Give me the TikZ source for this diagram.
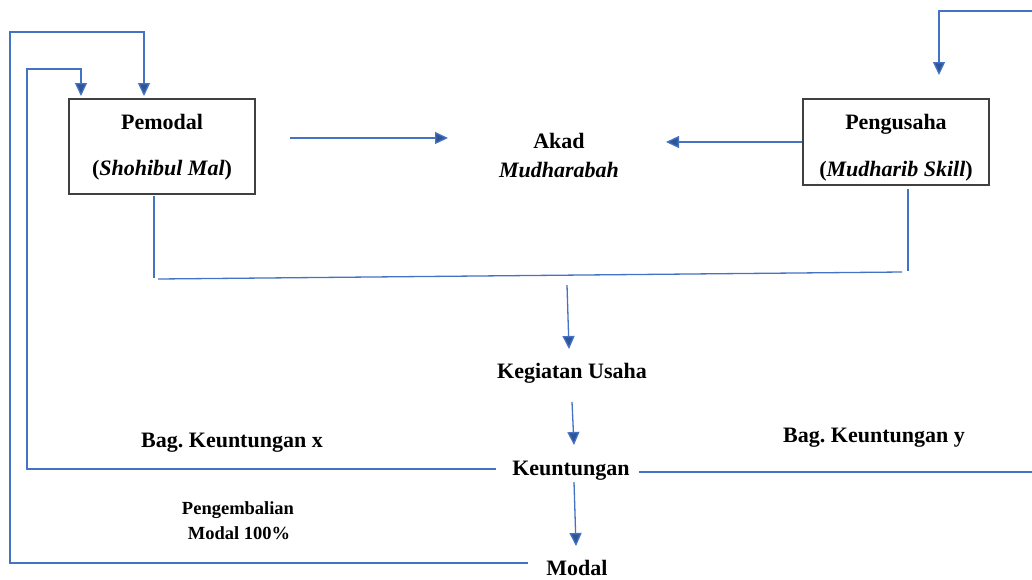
\documentclass[tikz,border=0pt]{standalone}
\usepackage{fontspec}
\setmainfont{Liberation Serif}
\usetikzlibrary{arrows.meta}
\definecolor{flow}{HTML}{4472C4}
\definecolor{flowdark}{HTML}{2F5597}
\definecolor{boxline}{HTML}{404040}
\frenchspacing
\begin{document}
\begin{tikzpicture}[x=1pt,y=-1pt,
  link/.style={draw=flow, line width=1.3pt},
  arr/.style={link, -{Triangle[length=13pt,width=12pt,fill=flowdark]}},
  party/.style={draw=boxline, line width=1.5pt, fill=white, inner sep=0pt},
  lbl/.style={font=\fontsize{22}{26}\selectfont\bfseries, anchor=base, inner sep=0pt},
  small/.style={font=\fontsize{18.5}{22}\selectfont\bfseries, anchor=base, inner sep=0pt}]
\useasboundingbox (0,0) rectangle (1032,579);

% the two parties
\node[party, minimum width=186pt, minimum height=95pt] (pemodal) at (162,146.5) {};
\node[lbl] (pemodalT) at (162,129) {Pemodal};
\node[lbl] (pemodalS) at (162,175) {(\textit{Shohibul Mal})};

\node[party, minimum width=186pt, minimum height=86pt] (pengusaha) at (896,142) {};
\node[lbl] (pengusahaT) at (896,129) {Pengusaha};
\node[lbl] (pengusahaS) at (896,176) {(\textit{Mudharib Skill})};

% the contract
\node[lbl] (akad) at (559,148) {Akad};
\node[lbl] (mudh) at (559,177) {\textit{Mudharabah}};

% flow of the business
\node[lbl] (kegiatan) at (572,378) {Kegiatan Usaha};
\node[lbl] (untung) at (571,475) {Keuntungan};
\node[lbl] (modal) at (577,575) {Modal};

\node[lbl] (bagx) at (232,447) {Bag. Keuntungan x};
\node[lbl] (bagy) at (874,442) {Bag. Keuntungan y};
\node[small] (kembali1) at (238,514) {Pengembalian};
\node[small] (kembali2) at (239,539) {Modal 100\%};

% connector end points
\coordinate (pemR) at (290,138);
\coordinate (akadL) at (448,138);
\coordinate (akadR) at (666,142);
\coordinate (tr0) at (1032,11);
\coordinate (tr1) at (939,11);
\coordinate (tr2) at (939,75);
\coordinate (j1) at (154,196);
\coordinate (j2) at (154,278);
\coordinate (j3) at (158,279);
\coordinate (j4) at (902,272);
\coordinate (j5) at (908,189);
\coordinate (j6) at (908,271);
\coordinate (k0) at (567,285);
\coordinate (k1) at (569,349);
\coordinate (u0) at (572,402);
\coordinate (u1) at (574,445);
\coordinate (m0) at (574,482);
\coordinate (m1) at (576,546);
\coordinate (ix0) at (496,469);
\coordinate (ix1) at (27,469);
\coordinate (ix2) at (27,69);
\coordinate (ix3) at (81,69);
\coordinate (ix4) at (81,96);
\coordinate (ox0) at (528,563);
\coordinate (ox1) at (10,563);
\coordinate (ox2) at (10,32);
\coordinate (ox3) at (144,32);
\coordinate (ox4) at (144,96);
\coordinate (ry0) at (639,472);
\coordinate (ry1) at (1032,472);

% connectors
\draw[arr] (pemR) -- (akadL);
\draw[arr] (pengusaha.west) -- (akadR);
\draw[arr] (tr0) -- (tr1) -- (tr2);
\draw[link] (j1) -- (j2);
\draw[link] (j3) -- (j4);
\draw[link] (j5) -- (j6);
\draw[arr] (k0) -- (k1);
\draw[arr] (u0) -- (u1);
\draw[arr] (m0) -- (m1);
\draw[arr] (ix0) -- (ix1) -- (ix2) -- (ix3) -- (ix4);
\draw[arr] (ox0) -- (ox1) -- (ox2) -- (ox3) -- (ox4);
\draw[link] (ry0) -- (ry1);
\end{tikzpicture}
\end{document}
